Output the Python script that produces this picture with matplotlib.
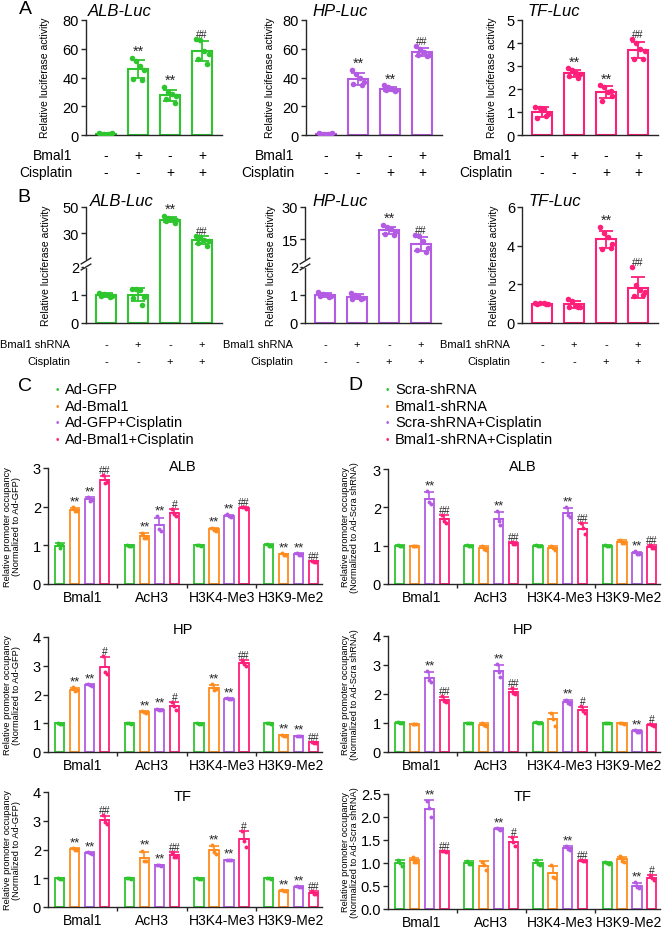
import numpy as np
import matplotlib
matplotlib.use('Agg')
import matplotlib.pyplot as plt
from matplotlib.transforms import blended_transform_factory

plt.rcParams['font.family'] = ['Liberation Sans', 'DejaVu Sans']

W, H = 671, 929

green = '#2ec52e'
orange = '#ff8c1e'
purple = '#b45be3'
pink = '#ff1f7a'
ink = '#262626'
four_colors = [green, orange, purple, pink]

# ---------------- data: panel A (6 dots per bar) ----------------
a_alb = [[1.1, 0.9, 1.0, 1.2, 0.8, 1.0],
         [53.5, 51.5, 48, 45, 38.7, 38.5],
         [33.2, 30, 28.3, 27, 24.8, 22],
         [66.6, 66, 58.5, 56.6, 52.7, 49.6]]
a_hp = [[1.1, 0.9, 1.0, 1.2, 0.8, 1.0],
        [45.5, 42.5, 40, 37, 35.5, 34.5],
        [34.5, 33.5, 32, 31.5, 31, 30.5],
        [62, 60, 57.5, 56, 55.5, 55]]
a_tf = [[1.23, 1.19, 1.12, 0.9, 0.75, 0.83],
        [2.9, 2.83, 2.71, 2.64, 2.57, 2.5],
        [2.16, 2.1, 1.88, 1.7, 1.48, 1.9],
        [4.16, 3.99, 3.72, 3.65, 3.29, 3.32]]
a_marks = ['', '**', '**', '##']
a_rows = [('Bmal1', ['-', '+', '-', '+']), ('Cisplatin', ['-', '-', '+', '+'])]

# ---------------- data: panel B ----------------
b_alb = [[1.08, 1.05, 1.0, 0.98, 0.95, 0.93],
         [1.2, 1.2, 1.18, 0.94, 0.88, 0.65],
         [43, 41.5, 40.5, 40, 39, 38],
         [28, 27, 25, 24, 22, 20]]
b_hp = [[1.12, 1.05, 1.0, 0.98, 0.95, 0.92],
        [1.08, 1.0, 0.93, 0.9, 0.86, 0.85],
        [21.5, 20.5, 19.5, 18.5, 17.5, 17],
        [16.8, 16.3, 14, 11, 10, 9]]
b_tf = [[1.05, 1.04, 1.02, 1.0, 0.98, 0.96],
        [1.25, 1.16, 0.9, 0.81, 0.82, 0.85],
        [4.97, 4.67, 4.45, 4.1, 3.84, 3.9],
        [2.89, 1.94, 1.71, 1.6, 1.42, 1.45]]
b_marks = ['', '', '**', '##']
b_rows = [('Bmal1 shRNA', ['-', '+', '-', '+']), ('Cisplatin', ['-', '-', '+', '+'])]

# ---------------- data: panels C/D (condition x group x 3 dots) ----------------
groups = ['Bmal1', 'AcH3', 'H3K4-Me3', 'H3K9-Me2']
c_legend = ['Ad-GFP', 'Ad-Bmal1', 'Ad-GFP+Cisplatin', 'Ad-Bmal1+Cisplatin']
d_legend = ['Scra-shRNA', 'Bmal1-shRNA', 'Scra-shRNA+Cisplatin', 'Bmal1-shRNA+Cisplatin']

c_alb = [[[1.05, 0.92, 1.0], [1.02, 0.99, 0.99], [1.01, 1.0, 0.99], [1.03, 0.99, 0.98]],
         [[1.98, 1.88, 1.9], [1.33, 1.2, 1.2], [1.45, 1.4, 1.38], [0.79, 0.76, 0.76]],
         [[2.25, 2.15, 2.17], [1.75, 1.42, 1.38], [1.8, 1.75, 1.72], [0.8, 0.76, 0.75]],
         [[2.82, 2.6, 2.65], [1.95, 1.8, 1.75], [2.0, 1.98, 1.95], [0.6, 0.58, 0.57]]]
c_hp = [[[1.02, 0.99, 0.99], [1.01, 1.0, 0.99], [1.02, 0.99, 0.99], [1.01, 1.0, 0.99]],
        [[2.25, 2.12, 2.15], [1.42, 1.38, 1.37], [2.35, 2.15, 2.18], [0.6, 0.57, 0.56]],
        [[2.36, 2.32, 2.31], [1.5, 1.47, 1.46], [1.87, 1.84, 1.83], [0.57, 0.55, 0.54]],
        [[3.35, 2.8, 2.7], [1.75, 1.6, 1.45], [3.2, 3.05, 3.0], [0.35, 0.33, 0.32]]]
c_tf = [[[1.02, 0.99, 0.99], [1.01, 1.0, 0.99], [1.02, 0.99, 0.99], [1.01, 1.0, 0.99]],
        [[2.05, 2.0, 2.0], [1.95, 1.6, 1.6], [2.15, 1.9, 1.85], [0.58, 0.55, 0.55]],
        [[1.9, 1.88, 1.86], [1.47, 1.45, 1.44], [1.65, 1.63, 1.62], [0.72, 0.7, 0.69]],
        [[3.2, 2.95, 2.9], [1.92, 1.75, 1.75], [2.65, 2.3, 2.1], [0.55, 0.45, 0.45]]]
d_alb = [[[1.02, 0.99, 0.99], [1.01, 1.0, 0.99], [1.02, 0.99, 0.99], [1.01, 1.0, 0.99]],
         [[1.0, 0.99, 0.98], [1.0, 0.92, 0.88], [1.0, 0.93, 0.9], [1.15, 1.08, 1.08]],
         [[2.42, 2.15, 2.1], [1.9, 1.65, 1.55], [2.0, 1.8, 1.75], [0.85, 0.78, 0.77]],
         [[1.8, 1.65, 1.6], [1.1, 1.05, 1.05], [1.58, 1.45, 1.3], [1.02, 0.95, 0.93]]]
d_hp = [[[1.02, 0.99, 0.99], [1.01, 1.0, 0.99], [1.02, 0.99, 0.99], [1.01, 1.0, 0.99]],
        [[0.98, 0.97, 0.96], [1.0, 0.92, 0.88], [1.35, 1.15, 0.9], [1.01, 0.99, 0.98]],
        [[2.78, 2.5, 2.4], [3.02, 2.75, 2.6], [1.8, 1.7, 1.65], [0.75, 0.7, 0.68]],
        [[1.92, 1.75, 1.72], [2.2, 2.05, 2.0], [1.57, 1.4, 1.35], [0.98, 0.92, 0.88]]]
d_tf = [[[1.07, 1.0, 0.93], [1.05, 0.98, 0.97], [1.07, 0.98, 0.95], [1.02, 1.0, 0.98]],
        [[1.12, 1.03, 1.02], [1.03, 0.95, 0.85], [0.95, 0.7, 0.68], [1.15, 1.05, 1.03]],
        [[2.35, 2.2, 2.0], [1.76, 1.73, 1.71], [1.37, 1.3, 1.28], [0.58, 0.47, 0.45]],
        [[1.27, 1.26, 1.25], [1.57, 1.45, 1.36], [1.06, 1.05, 1.04], [0.74, 0.67, 0.64]]]

# marks[group][condition]
c_alb_marks = [['', '**', '**', '##'], ['', '**', '**', '#'], ['', '**', '**', '##'], ['', '**', '**', '##']]
c_hp_marks = [['', '**', '**', '#'], ['', '**', '**', '#'], ['', '**', '**', '##'], ['', '**', '**', '##']]
c_tf_marks = [['', '**', '**', '##'], ['', '**', '**', '##'], ['', '**', '**', '#'], ['', '**', '**', '##']]
d_alb_marks = [['', '', '**', '##'], ['', '', '**', '##'], ['', '', '**', '##'], ['', '', '**', '##']]
d_hp_marks = [['', '', '**', '##'], ['', '', '**', '##'], ['', '', '**', '#'], ['', '', '**', '#']]
d_tf_marks = [['', '', '**', '##'], ['', '', '**', '#'], ['', '', '**', '##'], ['', '', '**', '#']]

fig = plt.figure(figsize=(W / 100, H / 100), dpi=100)


def add_ax(left, top, right, bottom):
    return fig.add_axes([left / W, 1 - bottom / H, (right - left) / W, (bottom - top) / H])


def ftext(x, y, s, **kw):
    return fig.text(x / W, 1 - y / H, s, **kw)


def style(ax, fs=10.5):
    for s in ['top', 'right']:
        ax.spines[s].set_visible(False)
    for s in ['left', 'bottom']:
        ax.spines[s].set_linewidth(1.0)
        ax.spines[s].set_color(ink)
    ax.tick_params(axis='both', width=1.0, length=3.5, color=ink, labelsize=fs, pad=1.5)


def mark_size(m, star):
    return star if m == '**' else 7.5


offs6 = np.array([-0.2, -0.07, 0.07, 0.2, -0.14, 0.14])


def luc_panel(ax, data, color, marks):
    x = np.arange(4)
    means = np.array([np.mean(d) for d in data])
    sds = np.array([np.std(d, ddof=1) for d in data])
    ax.bar(x, means, width=0.6, facecolor='white', edgecolor=color, linewidth=1.5, zorder=2)
    ax.errorbar(x, means, yerr=sds, fmt='none', ecolor=color, elinewidth=1.3,
                capsize=5, capthick=1.3, zorder=3)
    for i, d in enumerate(data):
        ax.scatter(i + offs6, d, s=16, color=color, zorder=4, linewidths=0)
        if marks[i]:
            top = max(means[i] + sds[i], max(d))
            ax.annotate(marks[i], (i, top), xytext=(0, 0), textcoords='offset points',
                        ha='center', va='bottom', fontsize=mark_size(marks[i], 10.5), color=ink)
    ax.set_xlim(-0.62, 3.62)
    ax.set_xticks([])
    style(ax)


def sign_rows(ax, rows, ys, label_x, fs):
    tr = blended_transform_factory(ax.transData, fig.transFigure)
    for (name, signs), y in zip(rows, ys):
        ftext(label_x, y, name, ha='right', va='center', fontsize=fs)
        for i, s in enumerate(signs):
            ax.text(i, 1 - y / H, s, transform=tr, ha='center', va='center', fontsize=fs)


def broken_scale(ax, vals):
    pos = [0, 56, 62, 116]
    ax.set_yscale('function', functions=(lambda v: np.interp(v, vals, pos),
                                         lambda p: np.interp(p, pos, vals)))


def break_marks(ax):
    y0, y1 = 56 / 116, 62 / 116
    ax.plot([0, 0], [y0 + 0.005, y1 - 0.005], transform=ax.transAxes, color='white', lw=3,
            clip_on=False, zorder=5)
    for yy in (y0, y1):
        ax.plot([-0.035, 0.035], [yy - 0.025, yy + 0.025], transform=ax.transAxes, color=ink,
                lw=1, clip_on=False, zorder=6)


# ---------------- panel A ----------------
ftext(25, 9, 'A', fontsize=14, ha='center', va='center')
a_specs = [(86, a_alb, green, 'ALB-Luc', 120, 45, 72, [0, 20, 40, 60, 80]),
           (306, a_hp, purple, 'HP-Luc', 340, 270, 294, [0, 20, 40, 60, 80]),
           (522, a_tf, pink, 'TF-Luc', 554, 492, 512, [0, 1, 2, 3, 4, 5])]
for left, data, col, title, tx, lx, rx, ticks in a_specs:
    ax = add_ax(left, 21, left + 136, 136)
    luc_panel(ax, data, col, a_marks)
    ax.set_ylim(0, ticks[-1])
    ax.set_yticks(ticks)
    ftext(tx, 12, title, fontsize=12, style='italic', ha='center', va='center')
    ftext(lx, 78, 'Relative luciferase activity', fontsize=7.5, rotation=90, ha='center', va='center')
    sign_rows(ax, a_rows, [156, 173], rx, 10)

# ---------------- panel B ----------------
ftext(24, 197, 'B', fontsize=14, ha='center', va='center')
b_specs = [(86, b_alb, green, 'ALB-Luc', 122, 46, 70, [0, 2, 8.5, 50], [0, 1, 2, 30, 50]),
           (305, b_hp, purple, 'HP-Luc', 340, 271, 293, [0, 2, 4.69, 30], [0, 1, 2, 15, 30]),
           (522, b_tf, pink, 'TF-Luc', 555, 494, 510, None, [0, 2, 4, 6])]
for left, data, col, title, tx, lx, rx, vals, ticks in b_specs:
    ax = add_ax(left, 208, left + 136, 324)
    if vals is not None:
        broken_scale(ax, vals)
    luc_panel(ax, data, col, b_marks)
    ax.set_ylim(0, ticks[-1])
    ax.set_yticks(ticks)
    ax.set_yticklabels([str(t) for t in ticks])
    if vals is not None:
        break_marks(ax)
    ftext(tx, 202, title, fontsize=12, style='italic', ha='center', va='center')
    ftext(lx, 266, 'Relative luciferase activity', fontsize=7.5, rotation=90, ha='center', va='center')
    sign_rows(ax, b_rows, [345, 362], rx, 8)

# ---------------- panels C / D ----------------
gpos = np.arange(4) * 4.65
offs3 = np.array([-0.13, 0.0, 0.13])


def chip_panel(ax, data, marks, ticks):
    for c, (cond, color) in enumerate(zip(data, four_colors)):
        x = gpos + c
        means = np.array([np.mean(d) for d in cond])
        sds = np.array([np.std(d, ddof=1) for d in cond])
        ax.bar(x, means, width=0.62, facecolor='white', edgecolor=color, linewidth=1.3, zorder=2)
        ax.errorbar(x, means, yerr=[np.zeros(4), sds], fmt='none', ecolor=color, elinewidth=1.2,
                    capsize=3.5, capthick=1.2, zorder=3)
        for g in range(4):
            ax.scatter(x[g] + offs3, cond[g], s=8, color=color, zorder=4, linewidths=0)
            m = marks[g][c]
            if m:
                top = max(means[g] + sds[g], max(cond[g]))
                ax.annotate(m, (x[g], top), xytext=(0, 0), textcoords='offset points',
                            ha='center', va='bottom', fontsize=mark_size(m, 9.5), color=ink)
    ax.set_xlim(-0.78, 17.5)
    ax.set_ylim(0, ticks[-1])
    ax.set_yticks(ticks)
    style(ax)
    ax.set_xticks(gpos + 1.5)
    ax.set_xticklabels(groups, fontsize=10)
    ax.tick_params(axis='x', length=0, pad=4)
    ax.set_xticks(gpos[1:] - 0.825, minor=True)
    ax.tick_params(axis='x', which='minor', length=3, width=1.0, color=ink)


ftext(25, 387, 'C', fontsize=14, ha='center', va='center')
ftext(355, 385, 'D', fontsize=14, ha='center', va='center')
legend_y = [390, 407, 423, 440]
for labels, mx in [(c_legend, 57), (d_legend, 387)]:
    for lab, col, y in zip(labels, four_colors, legend_y):
        ftext(mx, y, '\u2022', color=col, fontsize=7, ha='center', va='center')
        ftext(mx + 8, y, lab, fontsize=10.5, ha='left', va='center')

c_specs = [(c_alb, c_alb_marks, 'ALB', 469, 585, [0, 1, 2, 3], 467),
           (c_hp, c_hp_marks, 'HP', 638, 753, [0, 1, 2, 3, 4], 630),
           (c_tf, c_tf_marks, 'TF', 793, 908, [0, 1, 2, 3, 4], 797)]
for data, marks, title, top, bot, ticks, ty in c_specs:
    ax = add_ax(48, top, 322, bot)
    chip_panel(ax, data, marks, ticks)
    ftext(183, ty, title, fontsize=10.5, ha='center', va='center')
    ftext(12, (top + bot) / 2, 'Relative promoter occupancy\n(Normalized to Ad-GFP)',
          fontsize=6.7, rotation=90, ha='center', va='center', linespacing=1.1)

d_specs = [(d_alb, d_alb_marks, 'ALB', 470, 585, [0, 1, 2, 3], 467),
           (d_hp, d_hp_marks, 'HP', 637, 753, [0, 1, 2, 3, 4], 630),
           (d_tf, d_tf_marks, 'TF', 795, 910, [0, 0.5, 1.0, 1.5, 2.0, 2.5], 797)]
for data, marks, title, top, bot, ticks, ty in d_specs:
    ax = add_ax(388, top, 660, bot)
    chip_panel(ax, data, marks, ticks)
    if title == 'TF':
        ax.set_yticklabels(['%.1f' % t for t in ticks])
    ftext(523, ty, title, fontsize=10.5, ha='center', va='center')
    ftext(350, (top + bot) / 2, 'Relative promoter occupancy\n(Normalized to Ad-Scra shRNA)',
          fontsize=6.7, rotation=90, ha='center', va='center', linespacing=1.1)

fig.savefig('out.png', dpi=100)
